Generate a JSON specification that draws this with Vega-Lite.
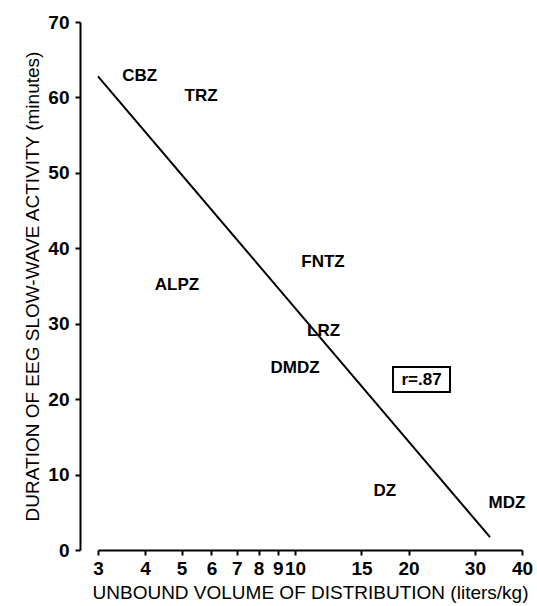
{
  "$schema": "https://vega.github.io/schema/vega-lite/v6.json",
  "width": 424,
  "height": 528,
  "autosize": "none",
  "padding": {"left": 98, "top": 22, "right": 15, "bottom": 56},
  "background": "white",
  "config": {
    "view": {"stroke": null},
    "font": "Liberation Sans",
    "axis": {"grid": false, "domainColor": "black", "domainWidth": 2, "tickColor": "black", "tickWidth": 2, "labelColor": "black", "titleColor": "black", "labelFont": "Liberation Sans", "titleFont": "Liberation Sans", "titleFontWeight": "normal", "labelFontWeight": "bold"}
  },
  "datasets": {
    "drugs": [
      {"vd": 3.87, "dur": 62.8, "drug": "CBZ"},
      {"vd": 5.63, "dur": 60.2, "drug": "TRZ"},
      {"vd": 4.86, "dur": 35.1, "drug": "ALPZ"},
      {"vd": 11.86, "dur": 38.2, "drug": "FNTZ"},
      {"vd": 11.9, "dur": 29.1, "drug": "LRZ"},
      {"vd": 10.0, "dur": 24.1, "drug": "DMDZ"},
      {"vd": 17.3, "dur": 7.8, "drug": "DZ"},
      {"vd": 36.5, "dur": 6.2, "drug": "MDZ"}
    ],
    "fit": [
      {"vd": 3, "dur": 62.8},
      {"vd": 32.9, "dur": 1.7}
    ],
    "note": [
      {"x1": 18.19, "x2": 25.77, "y1": 20.95, "y2": 24.26, "xc": 21.65, "yc": 22.6, "label": "r=.87"}
    ]
  },
  "layer": [
    {
      "data": {"name": "fit"},
      "mark": {"type": "line", "color": "black", "strokeWidth": 2},
      "encoding": {
        "x": {"field": "vd", "type": "quantitative",
          "scale": {"type": "log", "domain": [3, 40], "nice": false},
          "axis": {"values": [3, 4, 5, 6, 7, 8, 9, 10, 15, 20, 30, 40], "labelFontSize": 19, "tickSize": 5, "labelPadding": 4, "title": "UNBOUND VOLUME OF DISTRIBUTION (liters/kg)", "titleFontSize": 19, "titlePadding": 5, "labelFlush": false}},
        "y": {"field": "dur", "type": "quantitative",
          "scale": {"domain": [0, 70], "nice": false},
          "axis": {"values": [0, 10, 20, 30, 40, 50, 60, 70], "labelFontSize": 19, "tickSize": 5, "labelPadding": 6, "offset": 18, "title": "DURATION OF EEG SLOW-WAVE ACTIVITY (minutes)", "titleFontSize": 19, "titlePadding": 5, "labelFlush": false}}
      }
    },
    {
      "data": {"name": "drugs"},
      "mark": {"type": "text", "fontSize": 17, "fontWeight": "bold", "align": "center", "baseline": "middle", "color": "black"},
      "encoding": {
        "x": {"field": "vd", "type": "quantitative"},
        "y": {"field": "dur", "type": "quantitative"},
        "text": {"field": "drug"}
      }
    },
    {
      "data": {"name": "note"},
      "mark": {"type": "rect", "fill": null, "fillOpacity": 0, "stroke": "black", "strokeWidth": 2},
      "encoding": {
        "x": {"field": "x1", "type": "quantitative"},
        "x2": {"field": "x2"},
        "y": {"field": "y1", "type": "quantitative"},
        "y2": {"field": "y2"}
      }
    },
    {
      "data": {"name": "note"},
      "mark": {"type": "text", "fontSize": 17, "fontWeight": "bold", "align": "center", "baseline": "middle", "color": "black"},
      "encoding": {
        "x": {"field": "xc", "type": "quantitative"},
        "y": {"field": "yc", "type": "quantitative"},
        "text": {"field": "label"}
      }
    }
  ]
}
